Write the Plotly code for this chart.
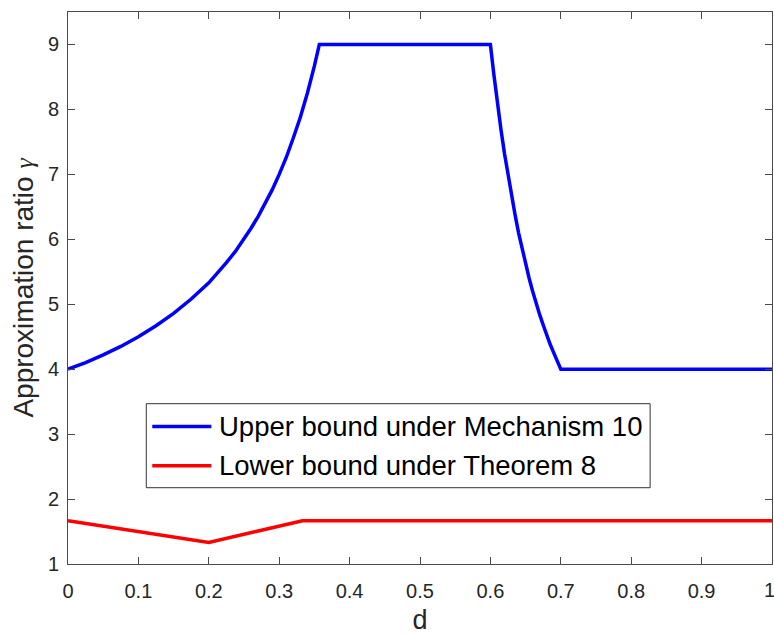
import plotly.graph_objects as go

# Upper bound under Mechanism 10
upper_d = [0.0, 0.025, 0.05, 0.075, 0.1, 0.125, 0.15, 0.175, 0.2, 0.2125, 0.225, 0.2375, 0.25, 0.26,
           0.27, 0.28, 0.29, 0.3, 0.31, 0.32, 0.33, 0.34, 0.345, 0.35, 0.357,
           0.6, 0.605, 0.61, 0.615, 0.62, 0.625, 0.63, 0.635, 0.64, 0.645,
           0.65, 0.655, 0.66, 0.665, 0.67, 0.675, 0.68, 0.685, 0.69, 0.695, 0.7, 1.0]
upper_v = [4.0, 4.1, 4.22, 4.35, 4.5, 4.67, 4.86, 5.08, 5.33, 5.48, 5.64, 5.81, 6.0, 6.17,
           6.35, 6.55, 6.76, 7.0, 7.26, 7.56, 7.88, 8.25, 8.45, 8.67, 9.0,
           9.0, 8.53, 8.09, 7.69, 7.32, 6.98, 6.67, 6.38, 6.1, 5.85,
           5.62, 5.4, 5.2, 5.01, 4.84, 4.68, 4.52, 4.38, 4.25, 4.12, 4.0, 4.0]

# Lower bound under Theorem 8
lower_d = [0.0, 0.1, 0.2, 0.267, 0.333, 1.0]
lower_v = [1.667, 1.5, 1.333, 1.5, 1.667, 1.667]

x_ticks = [0, 0.1, 0.2, 0.3, 0.4, 0.5, 0.6, 0.7, 0.8, 0.9, 1]
x_tick_text = ["0", "0.1", "0.2", "0.3", "0.4", "0.5", "0.6", "0.7", "0.8", "0.9", "1"]
y_ticks = [1, 2, 3, 4, 5, 6, 7, 8, 9]

names = ["Upper bound under Mechanism 10", "Lower bound under Theorem 8"]
colors = ["#0000FF", "#FF0000"]

FONT = "Liberation Sans, Arial, sans-serif"
TICK_FONT = dict(family=FONT, size=20, color="#262626")

fig = go.Figure()
fig.add_trace(go.Scatter(x=upper_d, y=upper_v, mode="lines", name=names[0],
                         line=dict(color=colors[0], width=3.5), showlegend=False))
fig.add_trace(go.Scatter(x=lower_d, y=lower_v, mode="lines", name=names[1],
                         line=dict(color=colors[1], width=3.5), showlegend=False))

axis_common = dict(showline=True, linecolor="#4a4a4a", linewidth=1, mirror="ticks",
                   ticks="inside", ticklen=7, tickcolor="#4a4a4a", showgrid=False,
                   zeroline=False, automargin=False, tickfont=TICK_FONT)

# The last x tick label sits on the figure edge, where Plotly drops it; it is drawn as an annotation
shown_x_text = x_tick_text[:-1] + [""]
fig.update_xaxes(range=[0, 1], tickvals=x_ticks, ticktext=shown_x_text,
                 title=dict(text="d", font=dict(family=FONT, size=27, color="#262626"), standoff=9),
                 ticklabelstandoff=9, **axis_common)
fig.update_yaxes(range=[1, 9.5], tickvals=y_ticks,
                 title=dict(text="Approximation ratio <span style='font-family:Liberation Serif;font-size:26px'><i>γ</i></span>",
                            font=dict(family=FONT, size=28, color="#262626"), standoff=6),
                 ticklabelstandoff=4, **axis_common)

# Custom legend (paper coordinates)
shapes = [dict(type="rect", xref="paper", yref="paper", x0=0.1112, x1=0.8269, y0=0.1382, y1=0.2904,
               line=dict(color="#333333", width=1), fillcolor="white", layer="above")]
rows_y = [0.2493, 0.1781]
annotations = []
for name, col, yy in zip(names, colors, rows_y):
    shapes.append(dict(type="line", xref="paper", yref="paper", x0=0.1197, x1=0.2036, y0=yy, y1=yy,
                       line=dict(color=col, width=3.5), layer="above"))
    annotations.append(dict(xref="paper", yref="paper", x=0.2112, y=yy, text=name, showarrow=False,
                            xanchor="left", yanchor="middle",
                            font=dict(family=FONT, size=27.5, color="black")))

annotations.append(dict(xref="x", yref="paper", x=x_ticks[-1], y=0, text=x_tick_text[-1],
                        showarrow=False, xanchor="center", yanchor="middle", xshift=-3, yshift=-26,
                        font=TICK_FONT))

fig.update_layout(width=774, height=635, autosize=False,
                  margin=dict(l=68, r=2, t=12, b=71),
                  paper_bgcolor="white", plot_bgcolor="white",
                  shapes=shapes, annotations=annotations,
                  font=dict(family=FONT))

# Remove the default 8px page margin so the 774x635 figure fills the window exactly
fig.write_html("out.html", config={"displayModeBar": False},
               post_script="document.body.style.margin='0px';document.body.style.overflow='hidden';")
